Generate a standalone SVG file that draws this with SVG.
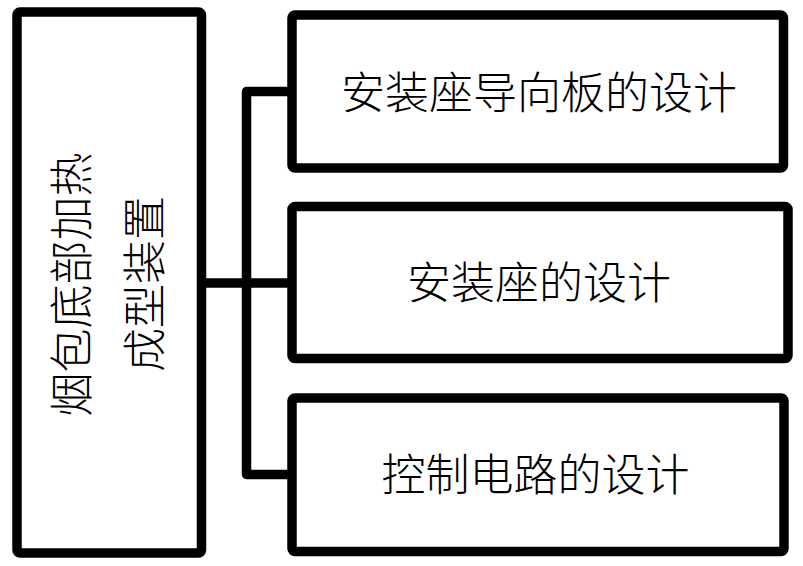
<svg xmlns="http://www.w3.org/2000/svg" width="803" height="566" viewBox="0 0 803 566">
<style>
.box{fill:#fff;stroke:#000;stroke-width:9.5;stroke-linejoin:round}
.conn{fill:none;stroke:#000;stroke-width:9.5;stroke-linejoin:round}
.t{font-family:"Noto Sans CJK SC","Noto Sans",sans-serif;font-size:44px;font-weight:300;fill:#000;text-anchor:middle;dominant-baseline:central}
</style>
<rect width="803" height="566" fill="#fff"/>
<g id="connectors">
<path class="conn" d="M201.5 283 H246.5 M292 91.5 H246.5 V474.5 H292 M246.5 283 H292"/>
</g>
<g id="n0">
<rect class="box" x="17" y="12" width="184.5" height="541" rx="3"/>
<text class="t" transform="translate(68.5 284.5) rotate(-90)">烟包底部加热</text>
<text class="t" transform="translate(141.5 284) rotate(-90)">成型装置</text>
</g>
<g id="n1">
<rect class="box" x="292" y="15" width="491.5" height="153" rx="3"/>
<text class="t" x="539" y="90">安装座导向板的设计</text>
</g>
<g id="n2">
<rect class="box" x="292" y="206.5" width="496" height="152" rx="3"/>
<text class="t" x="539" y="280">安装座的设计</text>
</g>
<g id="n3">
<rect class="box" x="292" y="398" width="492" height="153.5" rx="3"/>
<text class="t" x="535.5" y="472">控制电路的设计</text>
</g>
</svg>
